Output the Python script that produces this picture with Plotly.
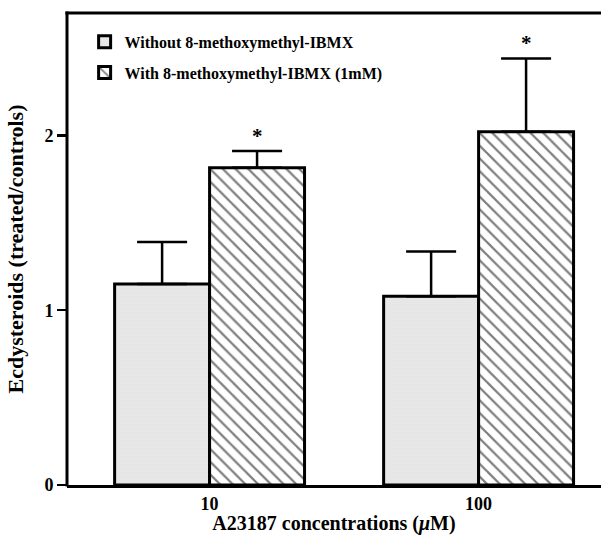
import plotly.graph_objects as go

groups = ["10", "100"]
group_pos = [0, 1]
without_vals = [1.15, 1.08]
without_err = [0.24, 0.255]
with_vals = [1.815, 2.02]
with_err = [0.095, 0.42]
series_names = ["Without 8-methoxymethyl-IBMX", "With 8-methoxymethyl-IBMX (1mM)"]

W = 0.353
SERIF = "Liberation Serif"

fig = go.Figure()
fig.add_trace(go.Bar(
    x=group_pos, y=without_vals, name="<b>%s</b>" % series_names[0],
    legendgroup="a",
    width=W, offset=-W,
    marker=dict(color="#ececec", line=dict(color="black", width=3),
                pattern=dict(shape=".", fgcolor="#a0a0a0", bgcolor="#efefef", size=2, solidity=0.25)),
    error_y=dict(type="data", symmetric=False, array=without_err, arrayminus=[0, 0],
                 color="black", thickness=2.5, width=25),
))
fig.add_trace(go.Bar(
    x=group_pos, y=with_vals, name="<b>%s</b>" % series_names[1],
    legendgroup="b",
    width=W, offset=0,
    marker=dict(color="white", line=dict(color="black", width=3),
                pattern=dict(shape="\\", fgcolor="black", bgcolor="white", size=9, solidity=0.25)),
    error_y=dict(type="data", symmetric=False, array=with_err, arrayminus=[0, 0],
                 color="black", thickness=2.5, width=25),
))

for gp, v, e in zip(group_pos, with_vals, with_err):
    fig.add_annotation(x=gp + W / 2, y=v + e, text="<b>*</b>", showarrow=False,
                       yanchor="bottom", yshift=1, font=dict(family=SERIF, size=21, color="black"))

# frame: left and top lines (open on the right as in the original)
fig.add_shape(type="line", xref="paper", yref="paper", x0=0, x1=0, y0=-0.003, y1=1.003,
              line=dict(color="black", width=3))
fig.add_shape(type="line", xref="paper", yref="paper", x0=-0.003, x1=1.0, y0=1, y1=1,
              line=dict(color="black", width=3))

fig.update_layout(
    width=601, height=535,
    margin=dict(l=67, r=0, t=13, b=50),
    plot_bgcolor="white", paper_bgcolor="white",
    font=dict(family=SERIF, size=16, color="black"),
    showlegend=True,
    legend=dict(x=0.033, y=0.975, xanchor="left", yanchor="top", bgcolor="rgba(0,0,0,0)",
                font=dict(family=SERIF, size=16, color="black"),
                traceorder="grouped", tracegroupgap=7),
    xaxis=dict(range=[-0.53, 1.455], tickmode="array", tickvals=group_pos,
               ticktext=["<b>%s</b>" % g for g in groups], automargin=False,
               showline=True, linecolor="black", linewidth=3, mirror=False,
               ticks="", showgrid=False, zeroline=False,
               title=dict(text="<b>A23187 concentrations (<i>μ</i>M)</b>", standoff=4,
                          font=dict(family=SERIF, size=20, color="black")),
               tickfont=dict(family=SERIF, size=18, color="black")),
    yaxis=dict(range=[0, 2.7], tickvals=[0, 1, 2], ticktext=["<b>0</b>", "<b>1</b>", "<b>2</b>"],
               showline=False, ticks="outside", ticklen=9, automargin=False,
               tickwidth=2.5, tickcolor="black", showgrid=False, zeroline=False,
               title=dict(text="<b>Ecdysteroids (treated/controls)</b>", standoff=14,
                          font=dict(family=SERIF, size=22, color="black")),
               tickfont=dict(family=SERIF, size=18, color="black")),
)

fig.write_html("out.html", config={"displayModeBar": False, "staticPlot": True})
